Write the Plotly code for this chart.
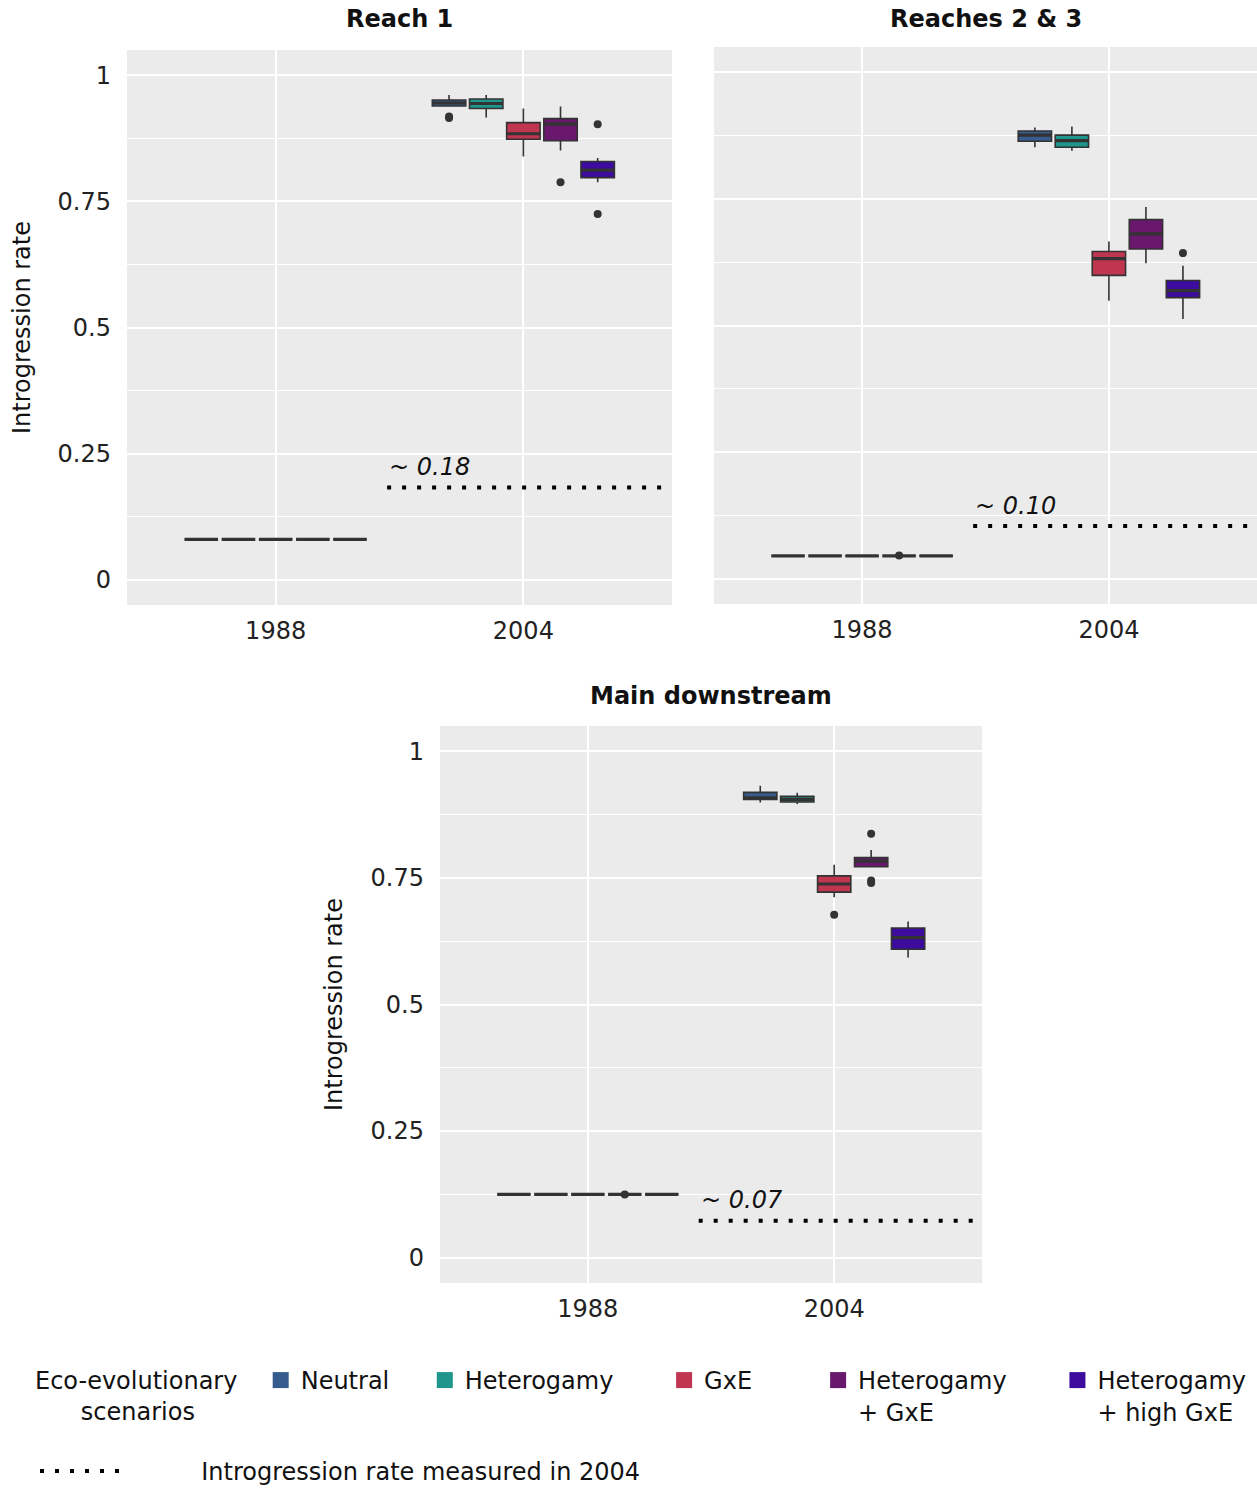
import plotly.graph_objects as go

# ---------------- data ----------------
years = ["1988", "2004"]
scenarios = ["Neutral", "Heterogamy", "GxE", "Heterogamy + GxE", "Heterogamy + high GxE"]
legend_lines = [["Neutral"], ["Heterogamy"], ["GxE"], ["Heterogamy", "+ GxE"], ["Heterogamy", "+ high GxE"]]
legend_title_lines = ["Eco-evolutionary", "scenarios"]
scenario_colors = ["#365C8D", "#1F968B", "#C0354F", "#6A176E", "#3D0B9E"]
panel_titles = ["Reach 1", "Reaches 2 & 3", "Main downstream"]

# box statistics per scenario: (lower whisker, Q1, median, Q3, upper whisker)
reach1_1988 = [(0.080, 0.080, 0.080, 0.080, 0.080),
               (0.080, 0.080, 0.080, 0.080, 0.080),
               (0.080, 0.080, 0.080, 0.080, 0.080),
               (0.080, 0.080, 0.080, 0.080, 0.080),
               (0.080, 0.080, 0.080, 0.080, 0.080)]
reach1_2004 = [(0.939, 0.939, 0.945, 0.951, 0.961),
               (0.916, 0.934, 0.944, 0.953, 0.961),
               (0.839, 0.873, 0.884, 0.906, 0.934),
               (0.851, 0.870, 0.903, 0.914, 0.938),
               (0.788, 0.797, 0.812, 0.829, 0.836)]
reach1_out_1988 = [[], [], [], [], []]
reach1_out_2004 = [[0.918, 0.915], [], [], [0.788], [0.903, 0.725]]

reach23_1988 = [(0.045, 0.045, 0.045, 0.045, 0.045),
                (0.045, 0.045, 0.045, 0.045, 0.045),
                (0.045, 0.045, 0.045, 0.045, 0.045),
                (0.045, 0.045, 0.045, 0.045, 0.045),
                (0.045, 0.045, 0.045, 0.045, 0.045)]
reach23_2004 = [(0.852, 0.864, 0.876, 0.884, 0.891),
                (0.845, 0.852, 0.865, 0.876, 0.893),
                (0.549, 0.599, 0.632, 0.646, 0.666),
                (0.623, 0.651, 0.681, 0.709, 0.734),
                (0.513, 0.555, 0.569, 0.589, 0.618)]
reach23_out_1988 = [[], [], [], [0.046], []]
reach23_out_2004 = [[], [], [], [], [0.643]]

main_1988 = [(0.125, 0.125, 0.125, 0.125, 0.125),
             (0.125, 0.125, 0.125, 0.125, 0.125),
             (0.125, 0.125, 0.125, 0.125, 0.125),
             (0.125, 0.125, 0.125, 0.125, 0.125),
             (0.125, 0.125, 0.125, 0.125, 0.125)]
main_2004 = [(0.899, 0.905, 0.908, 0.919, 0.932),
             (0.896, 0.900, 0.905, 0.911, 0.918),
             (0.712, 0.722, 0.738, 0.754, 0.776),
             (0.772, 0.772, 0.783, 0.790, 0.805),
             (0.593, 0.609, 0.632, 0.651, 0.664)]
main_out_1988 = [[], [], [], [0.125], []]
main_out_2004 = [[], [], [0.677], [0.837, 0.745, 0.740], []]

observed_2004 = [0.183, 0.104, 0.073]
observed_labels = ["~ 0.18", "~ 0.10", "~ 0.07"]
observed_legend = "Introgression rate measured in 2004"

y_ticks = [0, 0.25, 0.5, 0.75, 1]
y_ticktext = ["0", "0.25", "0.5", "0.75", "1"]
y_minor = [0.125, 0.375, 0.625, 0.875]

# ---------------- layout constants ----------------
W, H = 1257, 1488
FONT = "DejaVu Sans"
DARK = "#333333"
NBSP = "\u00a0"
x_range = [0.4, 2.6]
y_range = [-0.05, 1.05]
dodge = 0.75
slot = dodge / len(scenarios)
box_w = slot * 0.9
obs_start = 1.45


def px_x(px):
    return px / W


def px_y(py):
    return 1 - py / H


panels = [
    (reach1_1988, reach1_2004, reach1_out_1988, reach1_out_2004),
    (reach23_1988, reach23_2004, reach23_out_1988, reach23_out_2004),
    (main_1988, main_2004, main_out_1988, main_out_2004),
]
axes = [("x", "y"), ("x2", "y2"), ("x3", "y3")]
# page-pixel boxes of panels: (left, right, top, bottom) and title centre y
panel_px = [(127, 672, 50, 605), (714, 1257, 47, 604), (440, 982, 726, 1283)]
title_py = [19, 19, 696]

fig = go.Figure()

for p, (s88, s04, o88, o04) in enumerate(panels):
    xa, ya = axes[p]
    for yi, (stats, outs) in enumerate([(s88, o88), (s04, o04)]):
        center = yi + 1
        for si in range(len(scenarios)):
            pos = center - dodge / 2 + slot * (si + 0.5)
            lo, q1, med, q3, hi = stats[si]
            fig.add_trace(go.Box(
                x=[pos], q1=[q1], median=[med], q3=[q3],
                lowerfence=[lo], upperfence=[hi], width=box_w,
                fillcolor=scenario_colors[si],
                line=dict(color=DARK, width=1.6), whiskerwidth=0,
                boxpoints=False, showlegend=False, name=scenarios[si],
                xaxis=xa, yaxis=ya))
            fig.add_trace(go.Scatter(
                x=[pos - box_w / 2, pos + box_w / 2], y=[med, med],
                mode="lines", line=dict(color=DARK, width=3.2),
                showlegend=False, hoverinfo="skip", xaxis=xa, yaxis=ya))
            if outs[si]:
                fig.add_trace(go.Scatter(
                    x=[pos] * len(outs[si]), y=outs[si], mode="markers",
                    marker=dict(color=DARK, size=8),
                    showlegend=False, xaxis=xa, yaxis=ya))
    # observed rate in 2004
    fig.add_trace(go.Scatter(
        x=[obs_start, x_range[1]], y=[observed_2004[p]] * 2, mode="lines",
        line=dict(color="black", width=4, dash="4px,11px"),
        showlegend=False, hoverinfo="skip", xaxis=xa, yaxis=ya))
    fig.add_annotation(
        x=obs_start, y=observed_2004[p] + 0.04, xref=xa, yref=ya,
        text="<i>" + observed_labels[p] + "</i>", showarrow=False,
        xanchor="left", yanchor="middle",
        font=dict(family=FONT, size=24, color="#111111"))
    # panel title
    l, r, t, b = panel_px[p]
    fig.add_annotation(
        x=px_x((l + r) / 2), y=px_y(title_py[p]), xref="paper", yref="paper",
        text="<b>" + panel_titles[p] + "</b>", showarrow=False,
        xanchor="center", yanchor="middle",
        font=dict(family=FONT, size=24, color="#111111"))

# legend entries (non-breaking spaces only widen the entries)
legend_pad = [4, 6, 8, 6, 0]
for si in range(len(scenarios)):
    lines = list(legend_lines[si])
    lines[0] = lines[0] + NBSP * legend_pad[si]
    fig.add_trace(go.Scatter(
        x=[None], y=[None], mode="markers", name="<br>".join(lines),
        marker=dict(symbol="square", size=16, color=scenario_colors[si]),
        legend="legend"))
fig.add_trace(go.Scatter(
    x=[None], y=[None], mode="lines", name=NBSP * 10 + observed_legend,
    line=dict(color="black", width=4, dash="4px,11px"), legend="legend2"))

legend_title = (legend_title_lines[0] + NBSP * 2 + "<br>"
                + NBSP * 6 + legend_title_lines[1])

axis_font = dict(family=FONT, size=24, color="#222222")
layout_axes = {}
for p in range(3):
    l, r, t, b = panel_px[p]
    sfx = "" if p == 0 else str(p + 1)
    layout_axes["xaxis" + sfx] = dict(
        domain=[px_x(l), min(px_x(r), 1.0)], anchor="y" + sfx, range=x_range,
        tickvals=[1, 2], ticktext=years, showgrid=True, gridcolor="white",
        gridwidth=2, zeroline=False, showline=False, ticks="",
        ticklabelstandoff=9, tickfont=axis_font, fixedrange=True)
    layout_axes["yaxis" + sfx] = dict(
        domain=[px_y(b), px_y(t)], anchor="x" + sfx, range=y_range,
        tickvals=y_ticks, ticktext=y_ticktext, showgrid=True,
        gridcolor="white", gridwidth=1.8, zeroline=False, showline=False,
        ticks="", ticklabelstandoff=15, tickfont=axis_font,
        showticklabels=(p != 1),
        minor=dict(tickvals=y_minor, showgrid=True, gridcolor="white",
                   gridwidth=0.9, ticks=""),
        title=dict(text="Introgression rate" if p != 1 else "",
                   font=dict(family=FONT, size=24, color="#111111"),
                   standoff=20 if p == 0 else 21),
        automargin=False, fixedrange=True)

fig.update_layout(
    width=W, height=H,
    margin=dict(l=0, r=0, t=0, b=0, autoexpand=False),
    paper_bgcolor="white", plot_bgcolor="#EBEBEB",
    font=dict(family=FONT, size=24, color="#111111"),
    legend=dict(orientation="h", x=px_x(33), xanchor="left",
                y=px_y(1358), yanchor="top", valign="top",
                title=dict(text=legend_title, side="left",
                           font=dict(family=FONT, size=24)),
                font=dict(family=FONT, size=24, color="#111111"),
                itemsizing="trace", bgcolor="rgba(0,0,0,0)"),
    legend2=dict(orientation="h", x=px_x(35), xanchor="left",
                 y=px_y(1449), yanchor="top", itemwidth=80,
                 font=dict(family=FONT, size=24, color="#111111"),
                 bgcolor="rgba(0,0,0,0)"),
    **layout_axes)

fig.write_html("out.html", config={"displayModeBar": False},
               post_script="document.body.style.margin='0px';")
